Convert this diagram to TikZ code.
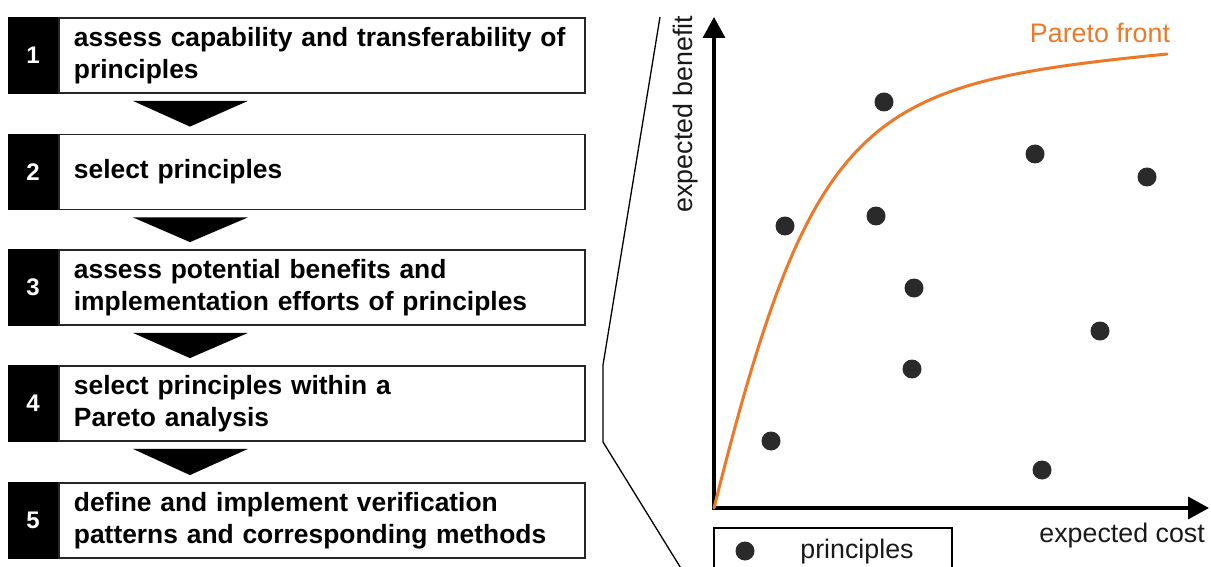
\documentclass[tikz,border=0pt]{standalone}
\usepackage{fontspec}
\setmainfont{Liberation Sans}
\usetikzlibrary{arrows.meta,calc}
\definecolor{pareto}{RGB}{236,120,40}
\definecolor{dotgray}{RGB}{42,42,42}
\begin{document}
\begin{tikzpicture}[x=1pt,y=-1pt,
  stepbox/.style={draw=black!85, line width=1.8pt, minimum width=526pt, minimum height=75pt,
    text width=496pt, align=left, inner xsep=15pt, inner ysep=0pt, anchor=west,
    font=\bfseries\fontsize{26.4}{32}\selectfont},
  numbox/.style={fill=black, draw=black, line width=1.8pt, minimum width=48pt, minimum height=75pt,
    inner sep=0pt, text=white, font=\bfseries\fontsize{24}{28}\selectfont},
  tri/.style={fill=black},
  dot/.style={circle, fill=dotgray, inner sep=0pt, minimum size=19pt},
  lbl/.style={font=\fontsize{26.8}{31}\selectfont, text=black!90, inner sep=0pt},
]
\useasboundingbox (0,0) rectangle (1211,567);
\fill[white] (0,0) rectangle (1211,567);

% ---- process steps ----
\node[stepbox] (b1) at (58,55.5) {assess capability and transferability of\\principles};
\node[stepbox] (b2) at (58,172) {select principles};
\node[stepbox] (b3) at (58,287.5) {assess potential benefits and\\implementation efforts of principles};
\node[stepbox] (b4) at (58,403.5) {select principles within a\\Pareto analysis};
\node[stepbox] (b5) at (58,520.5) {define and implement verification\\patterns and corresponding methods};
\foreach \i in {1,...,5}{
  \node[numbox, anchor=east] (n\i) at (b\i.west) {\i};
}
\foreach \i/\j in {1/2,2/3,3/4,4/5}{
  \fill[tri] ($(b\i.south)!0.5!(n\i.south east)+(-57,7)$) coordinate (t\i a)
     -- ++(115,0) coordinate (t\i b)
     -- ($(b\j.north)!0.5!(n\j.north east)+(0,-7)$) coordinate (t\i c) -- cycle;
}

% ---- zoom lines ----
\coordinate (z1) at (660,17);
\coordinate (z2) at (603,365);
\coordinate (z3) at (603,442);
\coordinate (z4) at (682,570);
\draw[line width=1.3pt] (z1) -- (z2) -- (z3) -- (z4);

% ---- axes ----
\coordinate (O) at (714,508);
\coordinate (Ytip) at (714,17);
\coordinate (Xtip) at (1209,508);
\draw[line width=3.5pt, {Triangle[length=21pt,width=22pt]}-{Triangle[length=21pt,width=22pt]}]
  (Ytip) -- (O) -- (Xtip);
\node[lbl, rotate=90] (ylab) at (686,114) {expected benefit};
\node[lbl, anchor=east] (xlab) at (1205,536) {expected cost};
\node[lbl, text=pareto] (plab) at (1100,33) {Pareto front};

% ---- Pareto front ----
\coordinate (pf0) at (714,508);
\coordinate (pf1) at (1167,54);
\draw[pareto, line width=3pt, line cap=round]
  (pf0) .. controls (814,108) and (867,84) .. (pf1);

% ---- principles ----
\node[dot] (p1) at (884,102) {};
\node[dot] (p2) at (1035,154) {};
\node[dot] (p3) at (1147,177) {};
\node[dot] (p4) at (785,226) {};
\node[dot] (p5) at (876,216) {};
\node[dot] (p6) at (914,288) {};
\node[dot] (p7) at (1100,331) {};
\node[dot] (p8) at (912,369) {};
\node[dot] (p9) at (771,441) {};
\node[dot] (p10) at (1042,470) {};

% ---- legend ----
\coordinate (l1) at (714,580);
\coordinate (l2) at (714,528);
\coordinate (l3) at (952,528);
\coordinate (l4) at (952,580);
\draw[line width=1.8pt] (l1) -- (l2) -- (l3) -- (l4);
\node[dot] (ld) at (745,551) {};
\node[lbl] (ltext) at (857,552) {principles};
\end{tikzpicture}
\end{document}
